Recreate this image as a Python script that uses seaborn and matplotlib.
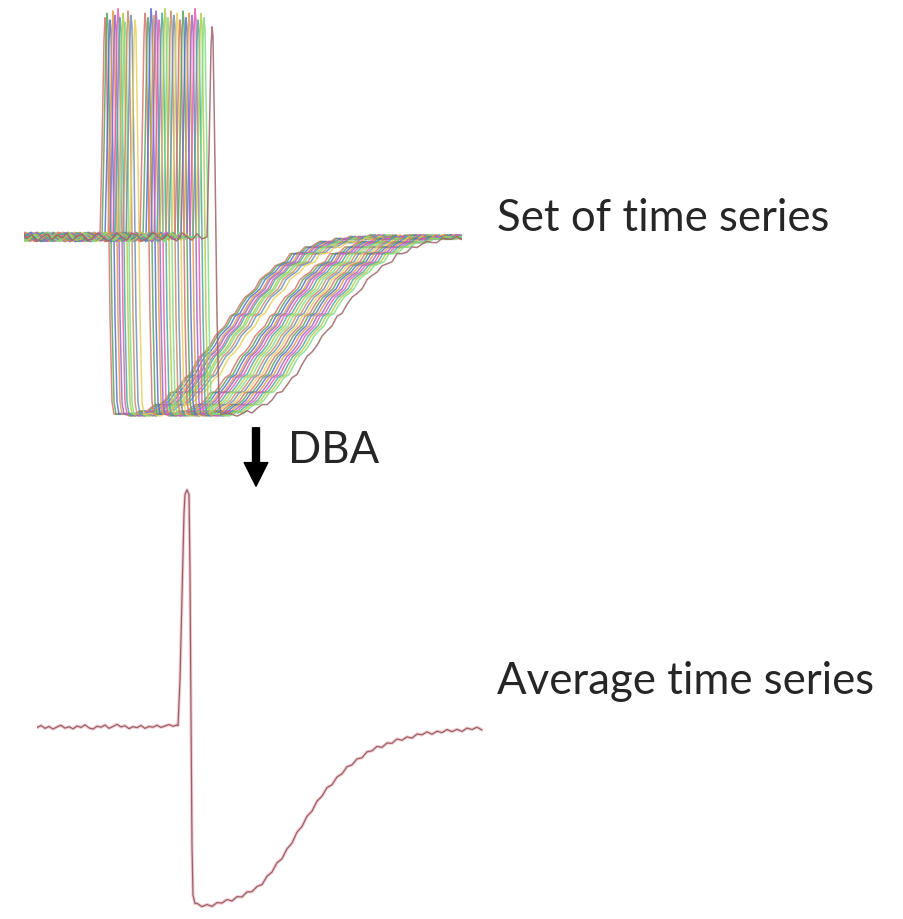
import numpy as np
import pandas as pd
import seaborn as sns
import matplotlib
matplotlib.use('Agg')
import matplotlib.pyplot as plt
from matplotlib.patches import FancyArrowPatch

# ---- data (membrane potential in mV, time in samples) ----
# set of time series: every trace follows the same shape, shifted to its own spike onset
onsets = [76, 78, 81, 84, 86, 89, 91, 94, 96, 99, 102, 106,
          116, 119, 122, 125, 127, 130, 133, 136, 139, 142, 145, 148,
          151, 154, 157, 160, 163, 166, 169, 172, 175, 183]
peaks = [97, 99, 96, 100, 98, 101, 97, 99, 95, 100, 98, 96,
         99, 97, 101, 98, 100, 96, 99, 101, 97, 100, 98, 99,
         96, 100, 97, 99, 98, 101, 96, 99, 97, 93]

# resting part before the spike (relative time -200 .. -5, step 5)
rest_v = [-65.9, -63.6, -66.4, -64.9, -63.2, -66.8, -65.3, -63.9, -66.1, -64.4,
          -62.9, -65.7, -66.9, -64.2, -63.5, -66.3, -65.0, -63.1, -65.8, -67.0,
          -64.6, -63.4, -65.9, -66.5, -63.8, -64.9, -66.7, -63.3, -65.4, -64.1,
          -66.2, -63.7, -65.1, -67.1, -64.0, -65.6, -63.0, -66.0, -64.7, -65.2]
# spike
spike_d = [0, 2, 4, 5, 6, 8, 10, 12, 14]
spike_v = [-65.0, -25.0, 25.0, 35.0, 30.0, -30.0, -100.0, -138.0, -143.5]
# hyperpolarisation and recovery (relative time 20 .. 365, step 5)
recov_v = [-143.1, -143.5, -144.3, -143.3, -141.9, -142.9, -140.9, -139.2, -139.2, -137.2,
           -134.0, -133.5, -130.6, -127.3, -125.9, -121.5, -117.8, -115.9, -113.0, -108.9,
           -106.5, -104.4, -100.1, -98.8, -94.9, -91.7, -90.0, -88.0, -83.9, -82.0,
           -80.6, -77.8, -76.9, -76.0, -72.4, -72.4, -71.7, -69.4, -69.7, -68.2,
           -66.9, -67.5, -67.5, -65.6, -65.9, -66.0, -64.7, -66.2, -64.8, -65.2,
           -64.0, -65.6, -64.8, -65.9, -64.5, -64.7, -65.7, -64.1, -65.2, -65.5,
           -64.3, -66.0, -64.6, -64.9, -65.6, -64.2, -65.3, -65.8, -64.4, -64.8]

# DBA average time series
avg_rest_v = [-65.3, -64.4, -65.6, -64.8, -65.9, -65.0, -64.3, -65.5, -64.9, -65.8,
              -64.6, -65.2, -64.1, -65.4, -65.9, -64.7, -65.1, -64.2, -65.6, -64.8,
              -63.9, -65.0, -64.5, -65.7, -64.9, -65.3, -64.4, -65.6, -64.8, -65.1,
              -64.3, -65.2, -64.6, -64.0, -64.7, -64.2]
avg_spike_t = [141, 143, 145, 147, 148, 150, 152, 153, 154, 155, 156, 158]
avg_spike_v = [-64.5, -45.0, -10.0, 25.0, 33.0, 35.0, 33.0, 0.0, -60.0, -115.0, -136.0, -139.5]
avg_recov_v = [-139.4, -140.8, -139.9, -140.7, -139.1, -139.3, -137.8, -138.4, -136.6, -136.7,
               -134.6, -134.5, -132.3, -131.5, -128.0, -126.2, -122.3, -120.6, -116.4, -114.0,
               -109.4, -107.0, -102.7, -100.5, -96.3, -94.2, -90.6, -89.4, -86.1, -84.8,
               -81.8, -81.0, -78.5, -78.0, -75.5, -75.1, -73.2, -73.6, -71.8, -71.9,
               -70.1, -70.6, -69.2, -69.7, -68.0, -68.3, -67.1, -68.1, -66.8, -67.4,
               -66.1, -67.0, -66.0, -66.9, -65.5, -66.1, -65.1, -66.3]

base_cols = ['#d9736f', '#5ba35b', '#5670d0', '#e39a45', '#9a66c9', '#e35fae',
             '#45ad9c', '#b5c94a', '#7fdd85', '#c98e66', '#6f8fb8', '#e8cf58']
colors = [base_cols[i % len(base_cols)] for i in range(len(onsets) - 1)] + ['#9c6466']

# ---- build long tables ----
rest_d = np.arange(-200, 0, 5)
recov_d = np.arange(20, 370, 5)
rows = []
for i, (on, pk) in enumerate(zip(onsets, peaks)):
    sv = np.array(spike_v)
    sv = np.where(sv > -65, -65 + (sv + 65) * pk / 100, sv)
    rv = rest_v if i % 2 == 0 else rest_v[::-1]
    d = np.concatenate([rest_d, spike_d, recov_d])
    v = np.concatenate([rv, sv, recov_v])
    rows.append(pd.DataFrame({'t': on + d, 'v': v, 'series': f's{i}'}))
sets = pd.concat(rows, ignore_index=True)

avg = pd.DataFrame({
    't': np.concatenate([np.arange(0, 141, 4), avg_spike_t, np.arange(160, 446, 5)]),
    'v': np.concatenate([avg_rest_v, avg_spike_v, avg_recov_v]),
})

# ---- figure ----
sns.set_theme(style='white')
plt.rcParams['font.family'] = ['Lato', 'DejaVu Sans']
fig = plt.figure(figsize=(9.04, 9.20), dpi=100)

ax1 = fig.add_axes([24 / 904, 1 - 430 / 920, 438 / 904, 429.3 / 920])
sns.lineplot(data=sets, x='t', y='v', hue='series', palette=colors, legend=False,
             estimator=None, sort=False, lw=1.1, alpha=0.85, ax=ax1)
ax1.set_xlim(0, 438)
ax1.set_ylim(-150, 40)
ax1.axis('off')

ax2 = fig.add_axes([37 / 904, 1 - 917.6 / 920, 446 / 904, 438.6 / 920])
sns.lineplot(data=avg, x='t', y='v', color='#f4cdd3', lw=2.4, estimator=None, sort=False, ax=ax2)
sns.lineplot(data=avg, x='t', y='v', color='#9a6068', lw=0.9, estimator=None, sort=False, ax=ax2)
ax2.set_xlim(0, 446)
ax2.set_ylim(-145, 40)
ax2.axis('off')

arrow = FancyArrowPatch((256 / 904, 1 - 426 / 920), (256 / 904, 1 - 490 / 920),
                        transform=fig.transFigure, color='black', mutation_scale=1,
                        arrowstyle='simple,head_width=17,head_length=17,tail_width=5')
fig.add_artist(arrow)

t1 = fig.text(497 / 904, 1 - 231 / 920, 'Set of time series', fontsize=30, va='baseline')
t2 = fig.text(497 / 904, 1 - 694 / 920, 'Average time series', fontsize=30, va='baseline')
t3 = fig.text(288 / 904, 1 - 463 / 920, 'DBA', fontsize=30, va='baseline')

# size the labels so the first one spans the same width as in the source
fig.canvas.draw()
w = t1.get_window_extent(fig.canvas.get_renderer()).width
fs = 30 * 332 / w
for t in (t1, t2, t3):
    t.set_fontsize(fs)

fig.savefig('out.png', dpi=100)
